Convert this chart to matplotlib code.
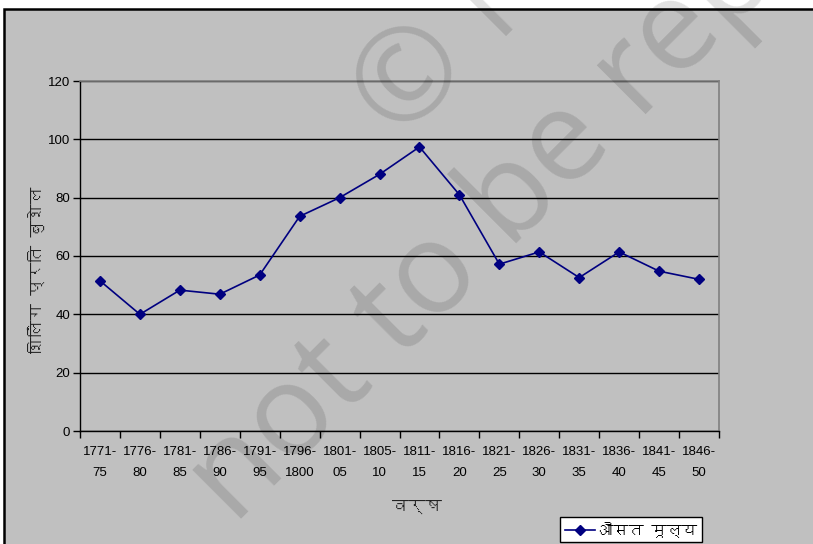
import matplotlib
matplotlib.use("Agg")
import matplotlib.pyplot as plt
from matplotlib import font_manager
from matplotlib.patches import Rectangle
from matplotlib.lines import Line2D

# ---- data ----
periods = ["1771-\n75", "1776-\n80", "1781-\n85", "1786-\n90", "1791-\n95",
           "1796-\n1800", "1801-\n05", "1805-\n10", "1811-\n15", "1816-\n20",
           "1821-\n25", "1826-\n30", "1831-\n35", "1836-\n40", "1841-\n45",
           "1846-\n50"]
avg_price = [51.5, 40.0, 48.3, 46.9, 53.5, 73.6, 80.0, 88.0, 97.4, 81.0,
             57.2, 61.4, 52.6, 61.4, 54.8, 52.0]
series_name = "औसत मूल्य"
y_label = "शिलिंग प्रति बुशेल"
x_label = "वर्ष"
y_ticks = [0, 20, 40, 60, 80, 100, 120]

# ---- find a font with Devanagari glyphs, if any ----
deva_family = None
try:
    from fontTools.ttLib import TTFont
    for fe in font_manager.fontManager.ttflist:
        try:
            f = TTFont(fe.fname, fontNumber=0, lazy=True)
            cmap = f.getBestCmap()
            if cmap and 0x0935 in cmap and 0x0937 in cmap:
                deva_family = fe.name
                break
        except Exception:
            pass
except Exception:
    pass
deva_fonts = ([deva_family] if deva_family else []) + ["DejaVu Sans"]

plt.rcParams['font.family'] = ['Liberation Sans', 'DejaVu Sans']

W, H = 813, 544
fig = plt.figure(figsize=(W / 100, H / 100), dpi=100)
fig.patch.set_facecolor("white")

# gray chart panel with black border (left/top)
panel = Rectangle((4 / W, -0.05), 1.2, 1 - 9 / H + 0.05, transform=fig.transFigure,
                  facecolor="#c0c0c0", edgecolor="black", linewidth=1.8, zorder=-5)
fig.patches.append(panel)

ax = fig.add_axes([80 / W, 1 - 431 / H, (719 - 80) / W, (431 - 81) / H])
ax.set_facecolor("none")
ax.set_zorder(1)

n = len(periods)
xs = list(range(n))
ax.plot(xs, avg_price, color="#000080", linewidth=1.2, marker="D",
        markersize=5.5, markerfacecolor="#000080", markeredgecolor="#000080",
        zorder=3, clip_on=False)

ax.set_xlim(-0.5, n - 0.5)
ax.set_ylim(0, 120)
ax.set_yticks(y_ticks)
ax.set_yticklabels([str(v) for v in y_ticks], fontsize=9.5)
ax.yaxis.grid(True, color="black", linewidth=1.0)
ax.set_axisbelow(True)

# category labels at centers, tick marks at boundaries
ax.set_xticks([i - 0.5 for i in range(n + 1)])
ax.set_xticklabels([])
ax.tick_params(axis="x", direction="out", length=5, width=1, color="black")
ax.tick_params(axis="y", direction="out", length=5, width=1, color="black", pad=2)
for i, lab in enumerate(periods):
    ax.text(i, -0.043, lab, transform=ax.get_xaxis_transform(), ha="center",
            va="top", fontsize=9.5, linespacing=2.0)

for s in ["left", "bottom"]:
    ax.spines[s].set_color("black")
    ax.spines[s].set_linewidth(1.0)
for s in ["top", "right"]:
    ax.spines[s].set_color("#808080")
    ax.spines[s].set_linewidth(1.2)

fig.text(36 / W, 1 - 270 / H, y_label, rotation=90, ha="center", va="center",
         fontsize=12, family=deva_fonts, color="#222222")
fig.text(417 / W, 1 - 507 / H, x_label, ha="center", va="center",
         fontsize=12, family=deva_fonts, color="#222222")

handle = Line2D([], [], color="#000080", linewidth=1.2, marker="D",
                markersize=5, markerfacecolor="#000080")
leg = fig.legend([handle], [series_name], loc="upper left",
                 bbox_to_anchor=(560 / W, 1 - 517 / H), frameon=True,
                 fancybox=False, edgecolor="black", facecolor="white",
                 framealpha=1, borderpad=0.3, handlelength=2.0,
                 handletextpad=0.2, borderaxespad=0,
                 prop={"family": deva_fonts, "size": 11})
leg.get_frame().set_linewidth(1.0)
leg.set_zorder(5)

# watermark
wm_font = ["Open Sans", "Liberation Sans"]
fig.text(376 / W, 1 - 120 / H, "© NCERT", rotation=45, ha="left", va="center",
         rotation_mode="anchor", fontsize=92, family=wm_font,
         color="black", alpha=0.12, zorder=10)
fig.text(210 / W, 1 - 502 / H, "not to be republished", rotation=45,
         ha="left", va="center", rotation_mode="anchor", fontsize=92,
         family=wm_font, color="black", alpha=0.12, zorder=10)

fig.savefig("out.png", dpi=100)
